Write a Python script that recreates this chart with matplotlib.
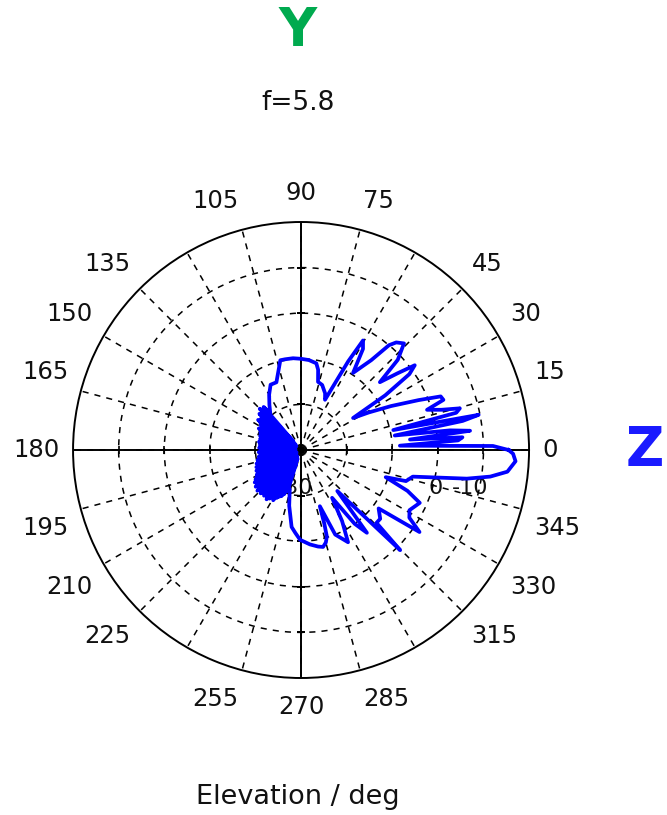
import numpy as np
import matplotlib.pyplot as plt

# pattern: angle (deg) -> level (dB), centre of plot = -30 dB
right_theta = [0, 1.2, 2.5, 3.5, 4.5, 5.5, 6.5, 7.5, 8.8, 10.2, 11.2, 12.2, 13.5, 14.7, 16, 17.7,
               19.4, 21, 23, 26, 29, 31.6, 33, 35, 36.7, 38.5, 40.7, 43, 46, 48.5, 50, 52, 56,
               58.5, 60.5, 62, 63.5, 64.5, 67, 72, 76, 78, 80, 85, 90, 95, 100, 103, 106, 110,
               115, 120, 125, 130]
right_db = [15.5, 12.1, -8.3, 4.5, 5.5, -6, 7.3, 3, -9.2, 6, 9.7, -9.3, 5, 6, 2, -1,
            3.1, 2.8, -2, -8, -13, -16.6, -8, -1, 1.1, -3, -7.2, -1, 2.5, 1.5, 0, -5, -9.6,
            -4, -2.4, -8, -15, -17.8, -16.5, -15, -14.6, -12, -10.7, -10.2, -10, -9.8, -9.8, -9.8, -12, -14.2,
            -14.2, -16, -17.9, -19.5]

# dense back-lobe clutter, 131..250 deg in 1 deg steps
blob_theta = list(range(131, 251))
blob_db = [-17.5, -27.5, -18.0, -26.1, -17.2, -28.4, -18.6, -25.6, -17.9, -27.9,
           -18.8, -26.8, -19.0, -28.7, -18.5, -25.9, -19.4, -27.2, -19.8, -26.4,
           -20.1, -28.1, -19.6, -25.7, -20.8, -27.6, -20.3, -26.9, -21.0, -28.5,
           -20.5, -26.2, -21.4, -27.0, -20.7, -25.8, -21.1, -28.3, -20.6, -26.6,
           -21.3, -27.4, -20.9, -25.5, -21.6, -28.8, -20.8, -26.3, -21.2, -27.7,
           -21.5, -26.0, -20.7, -28.2, -21.0, -25.9, -21.4, -27.1, -20.6, -26.7,
           -20.9, -28.6, -20.2, -25.6, -20.6, -27.3, -19.8, -26.5, -20.3, -28.0,
           -19.5, -25.8, -19.9, -27.8, -19.2, -26.1, -19.6, -28.9, -18.9, -25.7,
           -18.6, -27.5, -18.1, -26.4, -17.6, -28.3, -18.0, -25.9, -17.2, -27.0,
           -17.7, -26.8, -16.9, -28.6, -17.4, -25.5, -17.0, -27.4, -17.5, -26.2,
           -17.1, -28.1, -17.6, -25.8, -16.8, -27.7, -17.3, -26.6, -17.9, -28.4,
           -17.4, -26.0, -18.2, -27.2, -18.7, -25.7, -19.0, -28.0, -19.6, -26.9]

lower_theta = [252, 254, 258, 263, 266, 269.4, 275.4, 280, 282.8, 285, 286.6, 287.5, 288.5, 292,
               297, 300, 303, 306, 308.5, 311.5, 314.7, 316, 319, 323, 325.3, 328, 331, 336,
               339, 342.2, 343.5, 346.6, 350.2, 352, 354, 357, 359, 360]
lower_db = [-20.5, -21, -17.5, -13, -11.8, -10.3, -9.2, -8.5, -8.2, -9, -10.2, -13, -17, -10,
            -7.3, -12, -17.5, -10, -6.8, -18, 0.9, -7, -7, -8.7, 1.6, -2, -2.8, -1.5,
            -5, -10.5, -6, -4.8, 6.9, 11.9, 15.5, 17.1, 16.5, 15.5]

angle_ticks = list(range(0, 360, 15))
angle_labels = ['' if a in (60, 120, 240, 300) else str(a) for a in angle_ticks]
ring_values = [-20, -10, 0, 10]
r_label_text = ['-30', '0', '-10']
r_label_pos = [-30, 0, 10]

theta = np.deg2rad(right_theta + blob_theta + lower_theta)
gain = np.array(right_db + blob_db + lower_db)

fig = plt.figure(figsize=(6.67, 8.15), dpi=100)
ax = fig.add_axes([0.1095, 0.1681, 0.6837, 0.5595], projection='polar')
ax.set_ylim(-30, 20)

ax.set_thetagrids(angle_ticks, [''] * len(angle_ticks))
ax.set_rgrids(ring_values, labels=[''] * len(ring_values))
ax.grid(True, color='black', linestyle=(0, (4, 4)), linewidth=1.1)
ax.tick_params(axis='x', direction='in', length=3, width=1.2)
ax.spines['polar'].set_linewidth(1.4)

# angle labels outside the rim, anchored by the side facing the circle
fs = 17.5
for a, lab in zip(angle_ticks, angle_labels):
    if not lab:
        continue
    c, s = np.cos(np.deg2rad(a)), np.sin(np.deg2rad(a))
    ha = 'left' if c > 0.01 else ('right' if c < -0.01 else 'center')
    va = 'bottom' if s > 0.01 else ('top' if s < -0.01 else 'center')
    g = 13
    off = (g * c, g * s + 4 * np.sign(round(s, 2)))
    ax.annotate(lab, xy=(np.deg2rad(a), 20), xytext=off, textcoords='offset pixels',
                ha=ha, va=va, fontsize=fs, color='#111111', annotation_clip=False)

# solid cross through the centre
for a in (0, 90, 180, 270):
    ax.plot([np.deg2rad(a)] * 2, [-30, 20], color='black', lw=1.4, zorder=2)
    ax.plot([np.deg2rad(a)] * len(ring_values), ring_values, ls='none',
            marker='|' if a in (0, 180) else '_', ms=6, mew=1.2, color='black', zorder=2)

# radial level labels just below the 0 deg axis
for txt, rv in zip(r_label_text, r_label_pos):
    dx = 12 if rv == -30 else 5
    ax.annotate(txt, xy=(0, rv), xytext=(dx, -38), textcoords='offset pixels',
                ha='right', va='center', fontsize=16, color='#111111', zorder=1)

ax.plot(theta, gain, color='#0000ff', lw=2.7, zorder=3)

fig.text(298 / 667, 1 - 31 / 815, 'Y', color='#00aa4f', fontsize=38, fontweight='bold',
         ha='center', va='center')
fig.text(298 / 667, 1 - 103 / 815, 'f=5.8', fontsize=19, color='#111111', ha='center', va='center')
fig.text(645 / 667, 1 - 450 / 815, 'Z', color='#1a1aff', fontsize=38, fontweight='bold',
         ha='center', va='center')
fig.text(298 / 667, 1 - 797 / 815, 'Elevation / deg', fontsize=19.5, color='#111111',
         ha='center', va='center')

fig.savefig('out.png', dpi=100)
